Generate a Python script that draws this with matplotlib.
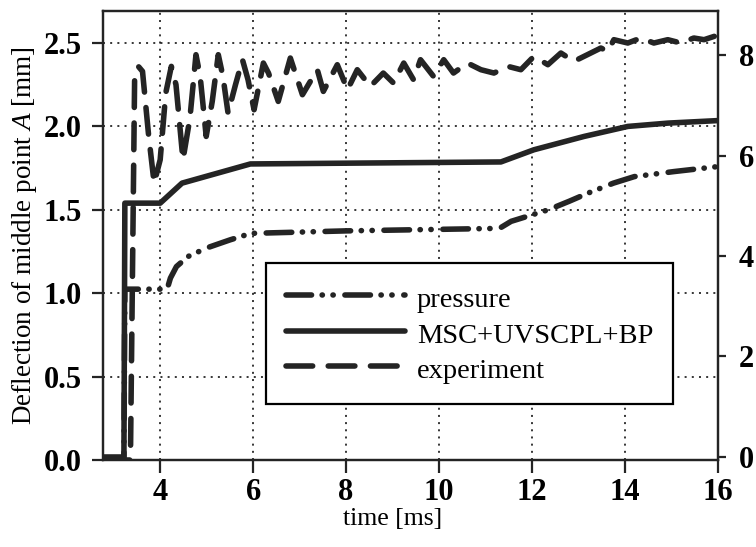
import matplotlib
matplotlib.use("Agg")
import matplotlib.pyplot as plt
from matplotlib.lines import Line2D

plt.rcParams["font.family"] = ["Liberation Serif", "DejaVu Serif"]
plt.rcParams["mathtext.fontset"] = "custom"
plt.rcParams["mathtext.it"] = "Liberation Serif:italic"
plt.rcParams["mathtext.rm"] = "Liberation Serif"

# ---- data -------------------------------------------------------------
# measured deflection of the middle point A [mm]
exp_t = [2.77, 3.36, 3.45, 3.53, 3.62, 3.75, 3.87, 4.0, 4.12, 4.24, 4.34, 4.49,
         4.64, 4.77, 4.86, 4.99, 5.12, 5.25, 5.35, 5.46, 5.62, 5.77, 5.89, 6.02,
         6.22, 6.33, 6.54, 6.80, 7.06, 7.38, 7.51, 7.81, 8.03, 8.24, 8.52, 8.80,
         9.02, 9.24, 9.45, 9.60, 9.88, 10.10, 10.31, 10.61, 10.90, 11.18, 11.48,
         11.76, 12.04, 12.34, 12.62, 12.90, 13.48, 13.63, 13.76, 14.06, 14.34,
         14.62, 14.92, 15.20, 15.48, 15.70, 15.92]
exp_d = [0.0, 0.0, 2.28, 2.36, 2.33, 1.95, 1.66, 1.80, 2.20, 2.36, 2.25, 1.80,
         2.05, 2.43, 2.30, 1.94, 2.15, 2.43, 2.30, 2.08, 2.25, 2.40, 2.28, 2.10,
         2.38, 2.32, 2.15, 2.41, 2.19, 2.34, 2.21, 2.37, 2.22, 2.34, 2.24, 2.32,
         2.26, 2.38, 2.28, 2.40, 2.30, 2.40, 2.32, 2.38, 2.34, 2.32, 2.36, 2.34,
         2.42, 2.37, 2.44, 2.39, 2.47, 2.45, 2.52, 2.50, 2.53, 2.50, 2.52, 2.50,
         2.53, 2.52, 2.54]

# simulated deflection, MSC+UVSCPL+BP [mm]
sim_t = [2.77, 3.22, 3.24, 4.0, 4.47, 5.94, 11.33, 12.04, 13.12, 14.06, 14.93, 16.0]
sim_d = [0.0, 0.0, 1.54, 1.54, 1.66, 1.775, 1.787, 1.86, 1.94, 2.0, 2.02, 2.035]

# applied pressure (right-hand axis)
p_t = [2.77, 3.22, 3.24, 4.15, 4.22, 4.35, 4.6, 5.0, 5.5, 5.95, 8.0, 11.3,
       11.55, 11.9, 12.35, 12.8, 13.2, 13.75, 14.2, 15.05, 16.0]
p_v = [0.0, 0.0, 3.34, 3.34, 3.56, 3.79, 3.99, 4.16, 4.32, 4.45, 4.50, 4.55,
       4.69, 4.79, 4.92, 5.09, 5.25, 5.45, 5.58, 5.68, 5.78]

x_ticks = [4, 6, 8, 10, 12, 14, 16]
left_ticks = [0.0, 0.5, 1.0, 1.5, 2.0, 2.5]
right_ticks = [0, 2, 4, 6, 8]

labels = ["pressure", "MSC+UVSCPL+BP", "experiment"]

# ---- styling ------------------------------------------------------------
ink = "#242424"
lw = 4.0
dash_exp = (0, (4.8, 2.8))
dash_p = (0, (4.6, 1.9, 0.05, 1.9, 0.05, 2.1))
grid_ls = (0, (1.3, 3.4))

fig = plt.figure(figsize=(7.56, 5.47), dpi=100)
ax = fig.add_axes([103 / 756, 87 / 547, 615 / 756, 449 / 547])
ax2 = ax.twinx()

ax.set_xlim(2.77, 16.0)
ax.set_ylim(0.0, 2.692)
ax2.set_ylim(-0.06, 8.876)

# dotted grid
for gx in x_ticks[:-1]:
    ax.axvline(gx, color="black", lw=1.1, ls=grid_ls, zorder=0.5)
for gy in left_ticks[1:]:
    ax.axhline(gy, color="black", lw=1.1, ls=grid_ls, zorder=0.5)

l_sim, = ax.plot(sim_t, sim_d, color=ink, lw=lw, solid_capstyle="round",
                 solid_joinstyle="round")
l_exp, = ax.plot(exp_t, exp_d, color=ink, lw=lw, ls=dash_exp,
                 dash_capstyle="round", dash_joinstyle="round")
l_p, = ax2.plot(p_t, p_v, color=ink, lw=lw, ls=dash_p,
                dash_capstyle="round", dash_joinstyle="round")

ax.set_xticks(x_ticks)
ax.set_yticks(left_ticks)
ax.set_yticklabels([f"{v:.1f}" for v in left_ticks])
ax2.set_yticks(right_ticks)

for spine in list(ax.spines.values()) + list(ax2.spines.values()):
    spine.set_linewidth(1.6)
    spine.set_color(ink)

tick_font = 22
ax.tick_params(axis="y", direction="out", length=8, width=1.6,
               colors=ink, labelcolor="black", labelsize=tick_font, pad=7)
ax.tick_params(axis="x", direction="out", length=9, width=1.6,
               colors=ink, labelcolor="black", labelsize=tick_font, pad=4)
ax2.tick_params(axis="y", direction="out", length=6, width=1.6,
                colors=ink, labelcolor="black", labelsize=tick_font, pad=9)
for lab in ax.get_xticklabels() + ax.get_yticklabels() + ax2.get_yticklabels():
    lab.set_fontweight("bold")

ax.set_xlabel("time [ms]", fontsize=18.5)
ax.xaxis.set_label_coords(0.4715, -0.106)
ax.set_ylabel(r"Deflection of middle point $\mathit{A}$ [mm]", fontsize=19.5)
ax.yaxis.set_label_coords(-0.104, 0.5)

handles = [
    Line2D([], [], color=ink, lw=lw, ls=dash_p, dash_capstyle="round"),
    Line2D([], [], color=ink, lw=lw, solid_capstyle="round"),
    Line2D([], [], color=ink, lw=lw, ls=dash_exp, dash_capstyle="round"),
]
leg = ax2.legend(handles, labels, loc="upper left",
                 bbox_to_anchor=(0.265, 0.439), fontsize=20.5,
                 handlelength=4.2, handleheight=1.25, handletextpad=0.4,
                 borderpad=0.7, labelspacing=0.17, fancybox=False,
                 framealpha=1.0, edgecolor="black", borderaxespad=0.0)
leg.get_frame().set_linewidth(1.6)

fig.savefig("out.png", dpi=100)
